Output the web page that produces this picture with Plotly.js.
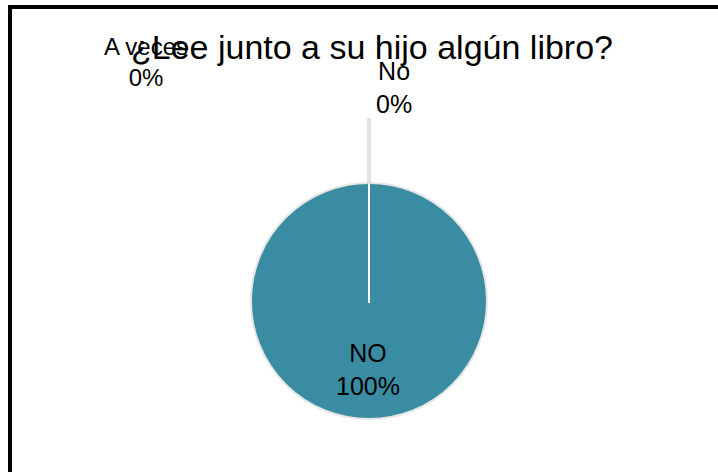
<!DOCTYPE html>
<html>
<head>
<meta charset="utf-8">
<script src="https://cdn.plot.ly/plotly-3.0.1.min.js"></script>
<style>
  html, body { margin: 0; padding: 0; background: #fff; }
  #chart { width: 718px; height: 472px; }
</style>
</head>
<body>
<div id="chart"></div>
<script>
const categories = ["NO", "No", "A veces"];
const values = [100, 0, 0];
const sliceColors = ["#398ca1", "#8fb6c8", "#c9dde6"];

const total = values.reduce((a, b) => a + b, 0);
const pct = values.map(v => Math.round((v / total) * 100));

// label positions (paper coords) for each category
const labelPos = [
  { x: 368 / 718, y: 1 - 369 / 472, size: 25 },
  { x: 394 / 718, y: 1 - 88 / 472, size: 25 },
  { x: 146 / 718, y: 1 - 62 / 472, size: 24 },
];

const annotations = categories.map((c, i) => ({
  text: `${c}<br>${pct[i]}%`,
  x: labelPos[i].x,
  y: labelPos[i].y,
  xref: "paper",
  yref: "paper",
  xanchor: "center",
  yanchor: "middle",
  showarrow: false,
  font: { family: "Liberation Sans, Arial, sans-serif", size: labelPos[i].size, color: "#000" },
}));

const trace = {
  type: "pie",
  labels: categories,
  values: values,
  sort: false,
  direction: "clockwise",
  rotation: 0,
  textinfo: "none",
  hoverinfo: "label+percent",
  marker: { colors: sliceColors, line: { color: "#e6e6e6", width: 2 } },
  domain: { x: [251 / 718, 487 / 718], y: [1 - 419 / 472, 1 - 183 / 472] },
  showlegend: false,
};

const px = v => v / 718;
const py = v => 1 - v / 472;

const layout = {
  width: 718,
  height: 472,
  margin: { t: 0, l: 0, r: 0, b: 0 },
  paper_bgcolor: "#fff",
  title: {
    text: "¿Lee junto a su hijo algún libro?",
    x: 372 / 718,
    xanchor: "center",
    y: 1 - 47 / 472,
    yanchor: "middle",
    font: { family: "Liberation Sans, Arial, sans-serif", size: 34, color: "#000" },
  },
  annotations: annotations,
  shapes: [
    // frame
    { type: "line", xref: "paper", yref: "paper", x0: px(10), x1: px(718), y0: py(7), y1: py(7), line: { color: "#000", width: 4 } },
    { type: "line", xref: "paper", yref: "paper", x0: px(10), x1: px(10), y0: py(5), y1: py(472), line: { color: "#000", width: 4 } },
    // leader line to "No"
    { type: "line", xref: "paper", yref: "paper", x0: px(369), x1: px(369), y0: py(118), y1: py(184), line: { color: "#c8c8c8", width: 3 } },
    { type: "line", xref: "paper", yref: "paper", x0: px(369), x1: px(369), y0: py(118), y1: py(184), line: { color: "#ffffff", width: 1 } },
    // zero-width slice boundary
    { type: "line", xref: "paper", yref: "paper", x0: px(369), x1: px(369), y0: py(184), y1: py(303), line: { color: "#ffffff", width: 2 } },
  ],
};

Plotly.newPlot("chart", [trace], layout, { displayModeBar: false, responsive: false });
</script>
</body>
</html>
